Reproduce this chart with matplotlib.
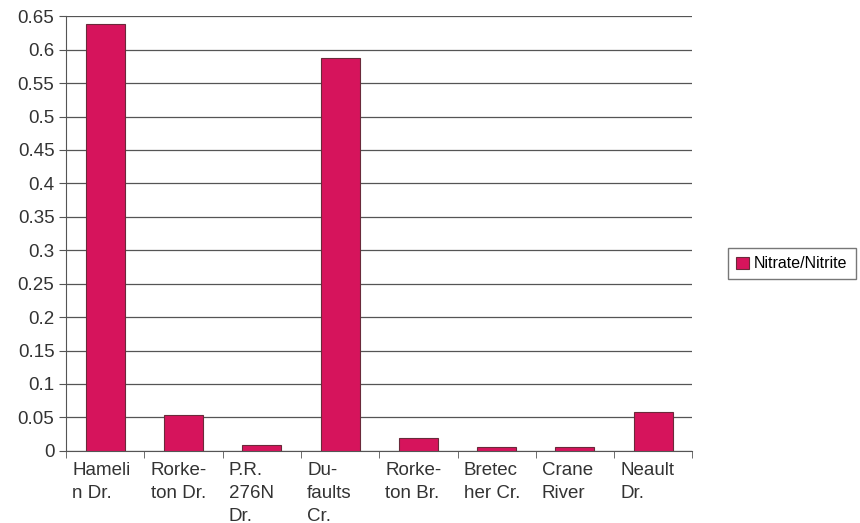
import numpy as np
import matplotlib.pyplot as plt
import matplotlib.transforms as mtransforms

plt.rcParams['font.family'] = ['Liberation Sans', 'DejaVu Sans']

sites = ['Hameli\nn Dr.', 'Rorke-\nton Dr.', 'P.R.\n276N\nDr.', 'Du-\nfaults\nCr.',
         'Rorke-\nton Br.', 'Bretec\nher Cr.', 'Crane\nRiver', 'Neault\nDr.']
nitrate = [0.638, 0.054, 0.009, 0.587, 0.019, 0.006, 0.006, 0.058]
yticks = np.arange(0, 0.651, 0.05)

fig = plt.figure(figsize=(8.6, 5.23), dpi=100)
ax = fig.add_axes([0.077, 0.138, 0.728, 0.831])

x = np.arange(len(sites))
ax.bar(x, nitrate, width=0.5, color='#d6145c', edgecolor='#6a2a3a', linewidth=0.8,
       label='Nitrate/Nitrite', zorder=3)

ax.set_xlim(-0.5, len(sites) - 0.5)
ax.set_ylim(0, 0.65)
ax.set_yticks(yticks)
ax.set_yticklabels(['0' if v == 0 else ('%.2f' % v).rstrip('0') for v in yticks])
ax.yaxis.grid(True, color='#555555', linewidth=0.9, zorder=0)

# labels sit left-aligned under each category
ax.set_xticks(x)
ax.set_xticklabels(sites, ha='left', va='top', linespacing=1.45)
ax.tick_params(axis='x', length=0, pad=8)
ax.set_xticks(np.arange(-0.5, len(sites)), minor=True)
ax.tick_params(axis='x', which='minor', length=5, direction='out', color='#555555')
ax.tick_params(axis='y', length=5, color='#555555', labelsize=13.5, labelcolor='#333333')
ax.tick_params(axis='x', labelsize=13.5, labelcolor='#333333')

offset = mtransforms.ScaledTranslation(-0.33, 0, fig.dpi_scale_trans)
for lbl in ax.get_xticklabels():
    lbl.set_transform(lbl.get_transform() + offset)

for s in ['top', 'right']:
    ax.spines[s].set_visible(False)
ax.spines['left'].set_color('#555555')
ax.spines['bottom'].set_color('#555555')

ax.legend(loc='center left', bbox_to_anchor=(1.045, 0.43), frameon=True,
          fancybox=False, edgecolor='#555555', fontsize=11.5,
          handlelength=0.8, handleheight=0.8, handletextpad=0.3, borderpad=0.5)

fig.savefig('out.png')
